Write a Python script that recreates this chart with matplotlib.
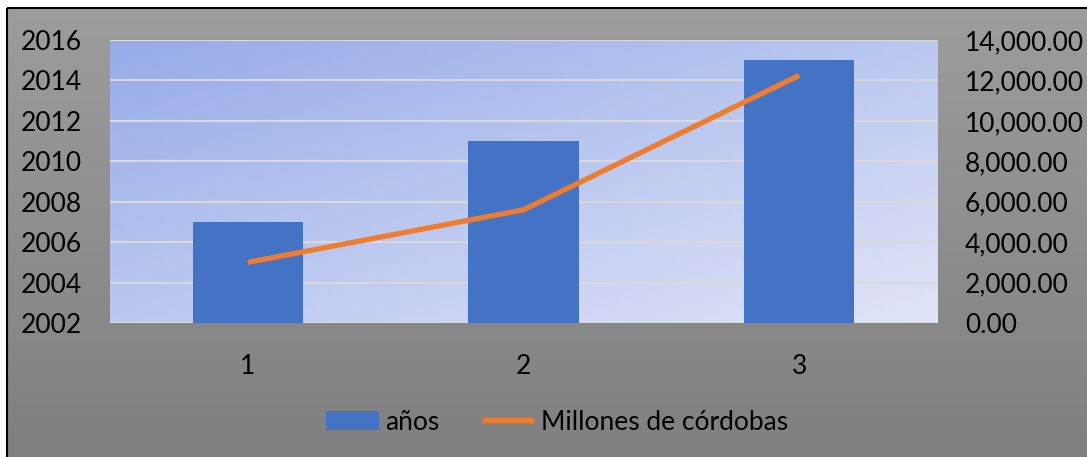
import matplotlib
matplotlib.use('Agg')
import matplotlib.pyplot as plt
import numpy as np
from matplotlib.patches import Patch, Rectangle
from matplotlib.lines import Line2D
from matplotlib.ticker import FuncFormatter

# data
categorias = ['1', '2', '3']
anios = [2007, 2011, 2015]
millones = [3000, 5600, 12250]

W, H = 1087, 457
plt.rcParams['font.family'] = ['Lato', 'DejaVu Sans']
fs = 19

fig = plt.figure(figsize=(W / 100, H / 100), dpi=100)
fig.patch.set_facecolor('white')

# grey chart background with vertical gradient + black border
bg = fig.add_axes([0, 0, 1, 1])
bg.set_xlim(0, W)
bg.set_ylim(H, 0)
bg.axis('off')
g = np.linspace(0, 1, 200)[:, None]
top = np.array([0.615, 0.615, 0.615])
bot = np.array([0.50, 0.50, 0.50])
grey = top * (1 - g[..., None]) + bot * g[..., None]
grey = np.repeat(grey, 2, axis=1)
bg.imshow(grey, extent=[7, W, H, 8], aspect='auto', zorder=0)
bg.add_patch(Rectangle((7, 8), W + 20, H, fill=False, edgecolor='black', lw=1.5, zorder=2))

# plot area
L, T, R, B = 110, 40, 937, 323
ax = fig.add_axes([L / W, 1 - B / H, (R - L) / W, (B - T) / H])
ax.set_facecolor('none')
n = 60
cc, rr = np.meshgrid(np.linspace(0, 1, n), np.linspace(0, 1, n))
t = ((cc + rr) / 2)[..., None]
c0 = np.array([150, 171, 232]) / 255
c1 = np.array([224, 228, 247]) / 255
grad = c0 * (1 - t) + c1 * t
ax.imshow(grad, extent=[0, 1, 0, 1], transform=ax.transAxes, aspect='auto', zorder=0)

x = np.arange(len(categorias))
ax.bar(x, anios, width=0.4, color='#4472C4', zorder=3)
ax.set_xlim(-0.5, 2.5)
ax.set_ylim(2002, 2016)
ax.set_yticks(range(2002, 2017, 2))
ax.set_xticks(x)
ax.set_xticklabels(categorias)
ax.grid(axis='y', color='#d9d9d9', lw=1.5, zorder=1)
ax.set_axisbelow(False)
for s in ax.spines.values():
    s.set_visible(False)
ax.tick_params(axis='y', length=0, pad=20, labelsize=fs)
ax.tick_params(axis='x', length=0, pad=22, labelsize=fs)

ax2 = ax.twinx()
ax2.plot(x, millones, color='#ED7D31', lw=3.8, solid_capstyle='butt', zorder=4)
ax2.set_ylim(0, 14000)
ax2.set_yticks(range(0, 14001, 2000))
ax2.yaxis.set_major_formatter(FuncFormatter(lambda v, p: '{:,.2f}'.format(v)))
for s in ax2.spines.values():
    s.set_visible(False)
ax2.tick_params(axis='y', length=0, pad=20, labelsize=fs)

handles = [Patch(facecolor='#4472C4', edgecolor='none'),
           Line2D([0], [0], color='#ED7D31', lw=3.8, solid_capstyle='butt')]
fig.legend(handles, ['años', 'Millones de córdobas'], loc='center',
           bbox_to_anchor=(557 / W, 1 - 422 / H), ncol=2, frameon=False,
           fontsize=fs, handlelength=2.0, handletextpad=0.25, columnspacing=1.6)

fig.savefig('out.png', dpi=100)
